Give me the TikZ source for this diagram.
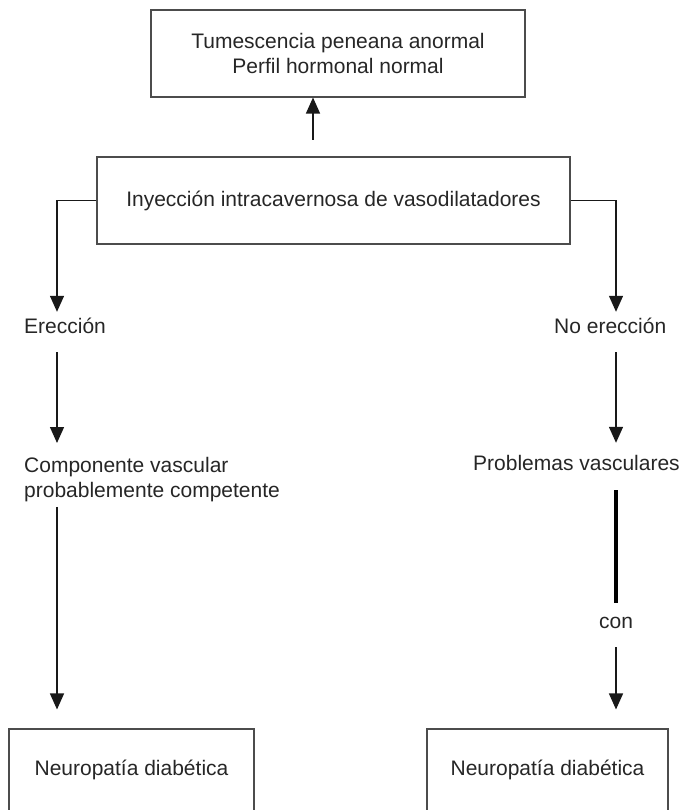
\documentclass[tikz,border=0pt]{standalone}
\usepackage{fontspec}
\setmainfont{Liberation Sans}
\usetikzlibrary{arrows.meta}

\begin{document}
\begin{tikzpicture}[x=1pt, y=-1pt,
  every node/.style={font=\fontsize{21}{25}\selectfont, text=black!85},
  box/.style={draw=black!70, line width=1.1pt, rectangle, align=center},
  lbl/.style={inner sep=0pt, text height=15pt, text depth=5pt, anchor=west},
  arr/.style={-{Triangle[length=16pt,width=14pt]}, line width=1.4pt, black!90}]
  \useasboundingbox (0,0) rectangle (683,810);
  % boxes
  \node (tumesc) at (338,53.5) [box, minimum width=374pt, minimum height=87pt] {Tumescencia peneana anormal\\Perfil hormonal normal};
  \node (iny) at (333.5,200.5) [box, minimum width=473pt, minimum height=87pt] {Inyección intracavernosa de vasodilatadores};
  \node (neuroA) at (131.5,770) [box, minimum width=245pt, minimum height=82pt] {Neuropatía diabética};
  \node (neuroB) at (547.5,770) [box, minimum width=241pt, minimum height=82pt] {Neuropatía diabética};
  % labels
  \node (erec) at (24,328) [lbl] {Erección};
  \node (noerec) at (554,328) [lbl] {No erección};
  \node (comp) at (24,457) [inner sep=0pt, anchor=north west, align=left] {Componente vascular\\probablemente competente};
  \node (prob) at (473,465) [lbl] {Problemas vasculares};
  \node (con) at (616,623) [lbl, anchor=center] {con};
  \coordinate (lcol) at (57,0);
  \coordinate (rcol) at (616,0);
  \coordinate (upfoot) at (313,140);
  % connectors
  \draw[arr] (upfoot) -- (upfoot |- tumesc.south);
  \draw[arr, shorten >=6pt] (iny.west) -| (lcol |- erec.north);
  \draw[arr, shorten >=6pt] (iny.east) -| (rcol |- noerec.north);
  \draw[arr, shorten <=14pt, shorten >=14pt] (lcol |- erec.south) -- (lcol |- comp.north);
  \draw[arr, shorten <=5pt, shorten >=19pt] (lcol |- comp.south) -- (lcol |- neuroA.north);
  \draw[arr, shorten <=14pt, shorten >=12pt] (rcol |- noerec.south) -- (rcol |- prob.north);
  \draw[line width=4pt, shorten <=15pt, shorten >=10pt] (rcol |- prob.south) -- (con.north);
  \draw[arr, shorten <=14pt, shorten >=19pt] (con.south) -- (rcol |- neuroB.north);
\end{tikzpicture}
\end{document}
